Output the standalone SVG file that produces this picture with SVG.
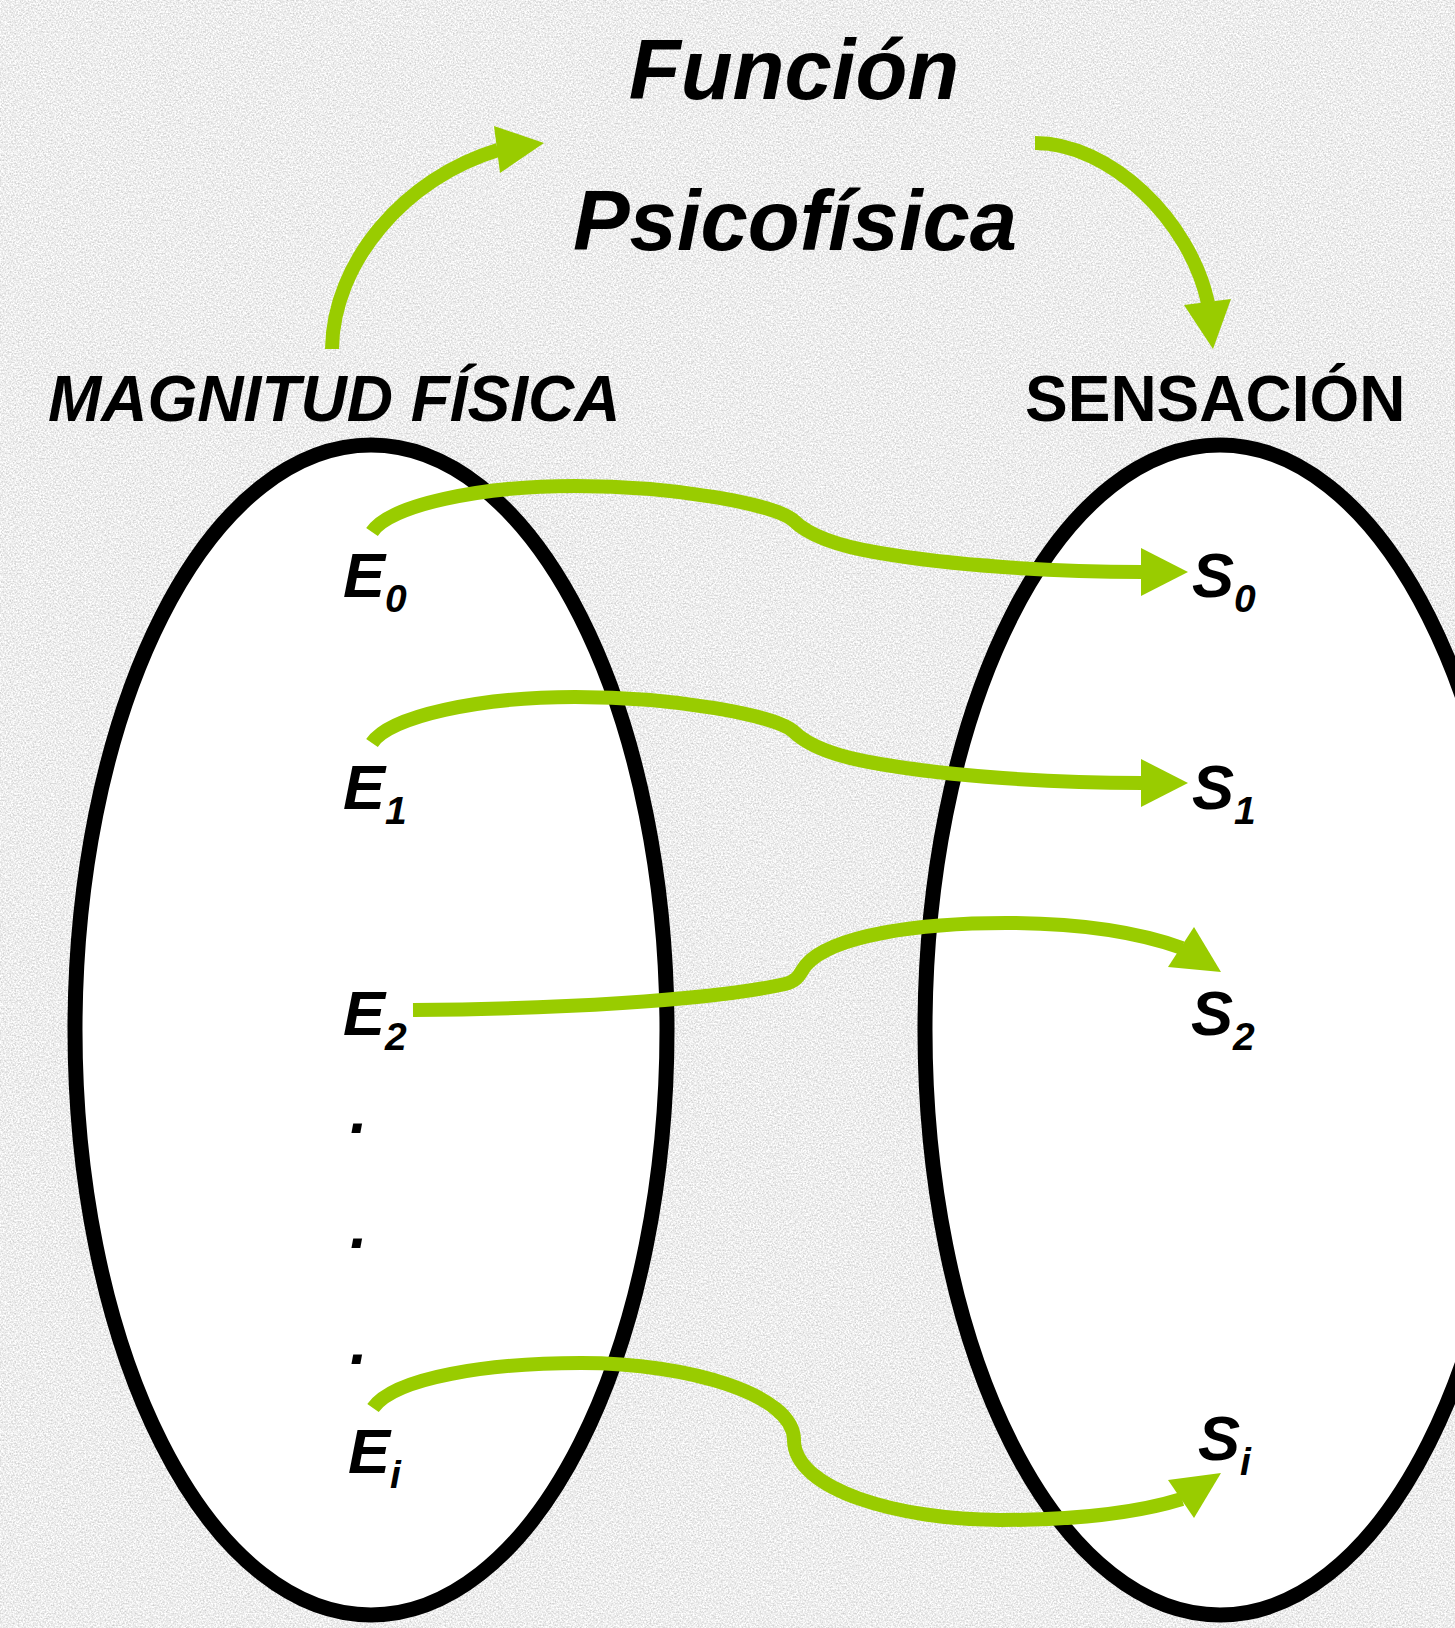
<svg xmlns="http://www.w3.org/2000/svg" width="1455" height="1628" viewBox="0 0 1455 1628">
  <defs>
    <filter id="grain" x="0" y="0" width="100%" height="100%" color-interpolation-filters="sRGB">
      <feTurbulence type="fractalNoise" baseFrequency="0.6" numOctaves="2" seed="7"/>
      <feColorMatrix type="matrix" values="0.36 0 0 0 0.75  0.36 0 0 0 0.75  0.36 0 0 0 0.75  0 0 0 0 1"/>
    </filter>
    <style>
      .set { fill: #ffffff; stroke: #000000; stroke-width: 15; }
      .conn { fill: none; stroke: #99cc00; stroke-width: 14; stroke-linecap: butt; }
      .head { fill: #99cc00; stroke: none; }
      .title { font-family: "Liberation Sans", Arial, sans-serif; font-weight: bold; font-style: italic; font-size: 85px; fill: #000; text-anchor: middle; }
      .head-label { font-family: "Liberation Sans", Arial, sans-serif; font-weight: bold; font-size: 64px; fill: #000; }
      .it { font-style: italic; }
      .lbl { font-family: "Liberation Sans", Arial, sans-serif; font-weight: bold; font-style: italic; font-size: 63px; fill: #000; }
      .sub { font-size: 39px; }
    </style>
  </defs>

  <rect x="0" y="0" width="1455" height="1628" fill="#e8e8e8"/>
  <rect x="0" y="0" width="1455" height="1628" filter="url(#grain)"/>

  <g id="title">
    <text class="title" x="794" y="99">Función</text>
    <text class="title" x="795" y="250">Psicofísica</text>
  </g>

  <g id="magnitud-fisica">
    <ellipse class="set" cx="371" cy="1030" rx="296" ry="585"/>
    <text class="head-label it" x="48" y="421">MAGNITUD FÍSICA</text>
  </g>

  <g id="sensacion">
    <ellipse class="set" cx="1220" cy="1030" rx="295" ry="585"/>
    <text class="head-label" x="1025" y="421">SENSACIÓN</text>
  </g>

  <g id="E0"><text class="lbl" x="343" y="597">E<tspan class="sub" dy="15">0</tspan></text></g>
  <g id="E1"><text class="lbl" x="343" y="809">E<tspan class="sub" dy="15">1</tspan></text></g>
  <g id="E2"><text class="lbl" x="343" y="1035">E<tspan class="sub" dy="15">2</tspan></text></g>
  <g id="dots">
    <text class="lbl" x="350" y="1133">.</text>
    <text class="lbl" x="350" y="1248">.</text>
    <text class="lbl" x="350" y="1364">.</text>
  </g>
  <g id="Ei"><text class="lbl" x="348" y="1473">E<tspan class="sub" dy="15">i</tspan></text></g>

  <g id="S0"><text class="lbl" x="1192" y="597">S<tspan class="sub" dy="15">0</tspan></text></g>
  <g id="S1"><text class="lbl" x="1192" y="809">S<tspan class="sub" dy="15">1</tspan></text></g>
  <g id="S2"><text class="lbl" x="1191" y="1035">S<tspan class="sub" dy="15">2</tspan></text></g>
  <g id="Si"><text class="lbl" x="1198" y="1460">S<tspan class="sub" dy="15">i</tspan></text></g>

  <g id="connectors">
    <path class="conn" d="M332,349 C333,262 405,178 498,150"/>
    <polygon class="head" points="494,126 544,143 500,173"/>

    <path class="conn" d="M1035,143 C1110,143 1190,220 1208,303"/>
    <polygon class="head" points="1184,305 1213,349 1231,299"/>

    <path class="conn" d="M372,532 C390,505 480,486 575,486 C680,486 775,505 793,520 C805,532 830,545 880,553 C950,565 1050,572 1142,572"/>
    <polygon class="head" points="1141,548 1188,572 1141,596"/>

    <path class="conn" d="M372,743 C390,716 480,697 575,697 C680,697 775,716 793,731 C805,743 830,756 880,764 C950,776 1050,783 1142,783"/>
    <polygon class="head" points="1141,759 1188,783 1141,807"/>

    <path class="conn" d="M413,1010 C550,1009 710,1001 785,984 C800,980 800,972 806,965 C832,935 920,923 1006,923 C1085,923 1140,933 1182,948"/>
    <polygon class="head" points="1168,967 1221,972 1194,927"/>

    <path class="conn" d="M373,1408 C395,1377 490,1363 581,1363 C690,1363 794,1395 794,1440 C794,1490 900,1520 1000,1520 C1080,1520 1140,1512 1182,1499"/>
    <polygon class="head" points="1168,1480 1221,1473 1194,1518"/>
  </g>
</svg>
